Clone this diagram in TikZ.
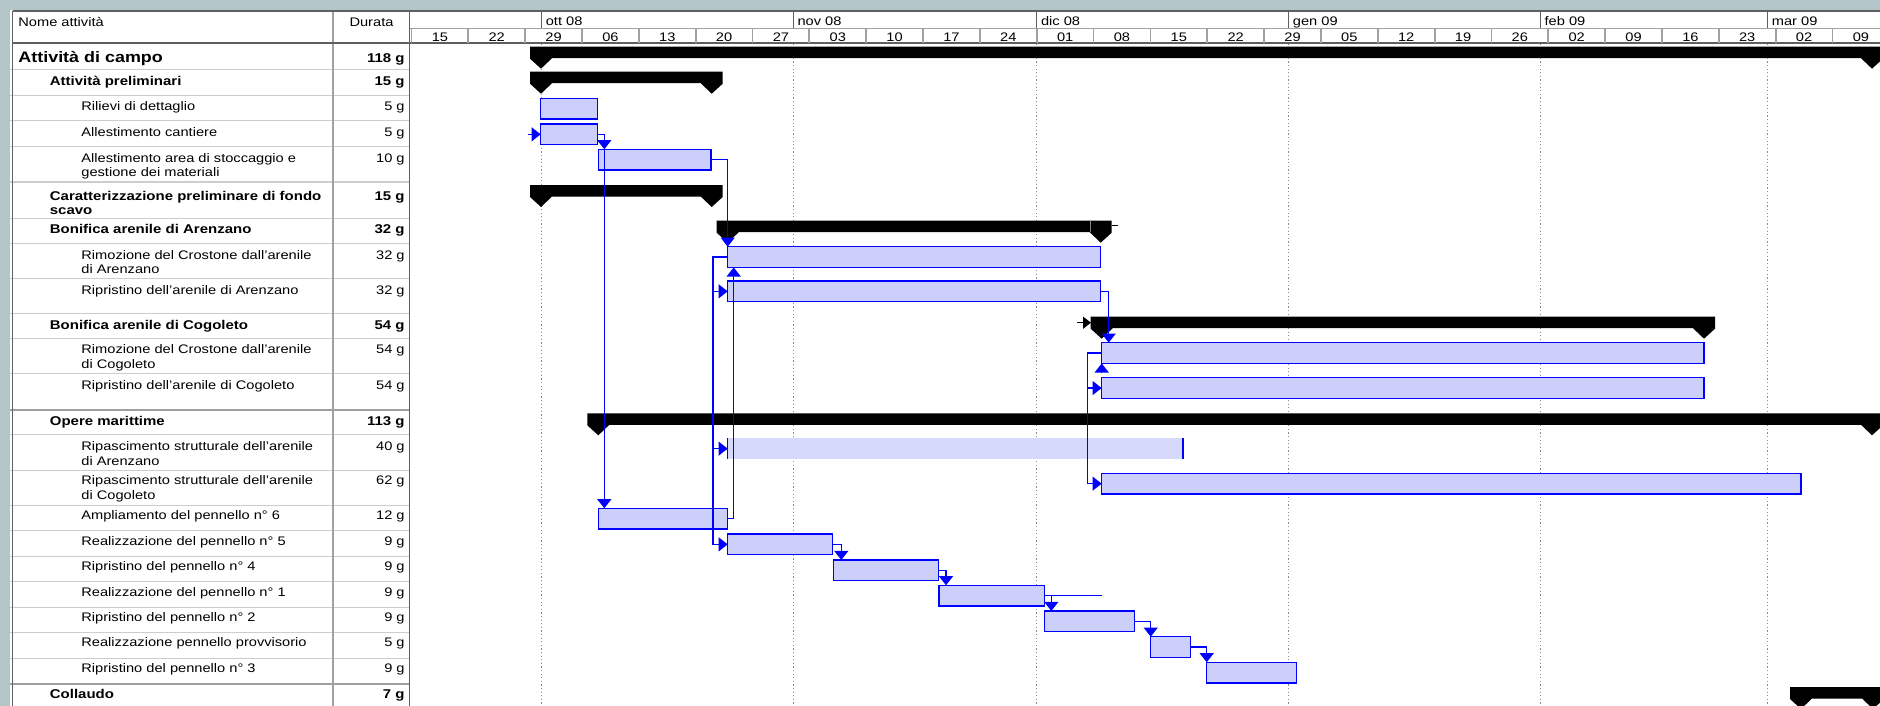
\documentclass[tikz,border=0pt]{standalone}
\usepackage{fontspec}
\setmainfont{Liberation Sans}[FakeStretch=1.18]
\usetikzlibrary{arrows.meta}

\definecolor{bgteal}{RGB}{180,197,199}
\definecolor{pblue}{RGB}{0,0,255}
\definecolor{barfill}{RGB}{204,207,250}
\definecolor{barlight}{RGB}{214,217,251}
\definecolor{gridc}{RGB}{205,205,205}
\definecolor{sepc}{RGB}{160,160,160}
\definecolor{darkc}{RGB}{95,95,95}
\definecolor{dotc}{RGB}{140,140,140}

\newcommand{\fn}{\fontsize{6.2pt}{7.4pt}\selectfont}
\newcommand{\fb}{\fontsize{6.35pt}{7.6pt}\selectfont\bfseries}
\newcommand{\fbig}{\fontsize{7.6pt}{9pt}\selectfont\bfseries}

% \tbar[opts]{name}{x1}{x2}{top}
\newcommand{\tbar}[5][]{\node[taskbar,#1,minimum width={(#4-#3)*0.5pt}] (#2) at (#3,#5) {};}
% \sumbar{name}{xstart}{xend}{top}
\newcommand{\sumbar}[4]{%
  \fill[black] ({#2-11},#4) -- ({#3+11},#4) -- ({#3+11},{#4+12}) -- (#3,{#4+22}) -- ({#3-11},{#4+11.5}) -- ({#2+11},{#4+11.5}) -- (#2,{#4+22}) -- ({#2-11},{#4+12}) -- cycle;
  \coordinate (#1) at (#2,#4);}

\begin{document}
\begin{tikzpicture}[x=0.5pt,y=-0.5pt,
  taskbar/.style={draw=pblue,fill=barfill,line width=0.75pt,anchor=north west,minimum height=10.35pt,inner sep=0pt,outer sep=0pt},
  link/.style={draw=pblue,line width=0.75pt,-{Triangle[width=7pt,length=4.6pt]}},
  plainlink/.style={draw=pblue,line width=0.75pt},
  lbl/.style={anchor=base west,inner sep=0pt,font=\fn},
  blbl/.style={anchor=base west,inner sep=0pt,font=\fb},
  dur/.style={anchor=base east,inner sep=0pt,font=\fn},
  bdur/.style={anchor=base east,inner sep=0pt,font=\fb},
  hdr/.style={inner sep=0pt,font=\fn}]

\useasboundingbox (0,0) rectangle (1880,706);
\fill[bgteal] (0,0) rectangle (1880,706);
\fill[white] (9.5,10.5) rectangle (1880,706);

% month dotted lines
\foreach \x in {541.4,793.1,1036.7,1288.5,1540.2,1767.5}
  \draw[dotc,line width=0.5pt,dash pattern=on 0.6pt off 1.2pt] (\x,43.5) -- (\x,706);

% table row lines
\foreach \y in {69.3,95.5,121,147,182,218.5,243.3,278.3,313.5,338,373,434.5,470,505.3,530.3,556,581.7,607,632.7,658.3}
  \draw[gridc,line width=0.5pt] (9.5,\y) -- (409,\y);
\foreach \y in {410,684}
  \draw[sepc,line width=1.2pt] (9.5,\y) -- (409,\y);

% table verticals
\draw[darkc,line width=0.75pt] (12.5,11) -- (12.5,706);
\draw[sepc,line width=1pt] (333,11) -- (333,706);
\draw[darkc,line width=0.75pt] (409.5,11) -- (409.5,706);

% header lines
\draw[darkc,line width=0.75pt] (12.5,11) -- (1880,11);
\draw[sepc,line width=0.6pt] (409.5,28.3) -- (1880,28.3);
\draw[darkc,line width=0.9pt] (12.5,43.3) -- (1880,43.3);

% header texts
\node[hdr,anchor=base west] (hname) at (18,26.7) {Nome attività};
\node[hdr,anchor=base] (hdur) at (371.5,26.7) {Durata};

% months
\foreach \x/\lab [count=\i] in {541.4/ott 08,793.1/nov 08,1036.7/dic 08,1288.5/gen 09,1540.2/feb 09,1767.5/mar 09}{
  \draw[darkc,line width=0.6pt] (\x,11) -- (\x,28.3);
  \node[hdr,anchor=base west] (m\i) at ({\x+4},25.8) {\lab};
}
% weeks
\foreach \k/\lab in {0/15,1/22,2/29,3/06,4/13,5/20,6/27,7/03,8/10,9/17,10/24,11/01,12/08,13/15,14/22,15/29,16/05,17/12,18/19,19/26,20/02,21/09,22/16,23/23,24/02,25/09}{
  \draw[sepc,line width=0.9pt] ({411.5+56.84*\k},28.3) -- ({411.5+56.84*\k},43.3);
  \node[hdr,anchor=base] (w\k) at ({411.5+56.84*\k+28.4},41.3) {\lab};
}

% names
\node[anchor=base west,inner sep=0pt,font=\fbig] (n1) at (18,62.5) {Attività di campo};
\node[blbl] (n2) at (49.5,86) {Attività preliminari};
\node[lbl] (n3) at (81,111) {Rilievi di dettaglio};
\node[lbl] (n4) at (81,136.5) {Allestimento cantiere};
\node[lbl] (n5a) at (81,162.5) {Allestimento area di stoccaggio e};
\node[lbl] (n5b) at (81,176.5) {gestione dei materiali};
\node[blbl] (n6a) at (49.5,200) {Caratterizzazione preliminare di fondo};
\node[blbl] (n6b) at (49.5,214) {scavo};
\node[blbl] (n7) at (49.5,233.5) {Bonifica arenile di Arenzano};
\node[lbl] (n8a) at (81,259) {Rimozione del Crostone dall'arenile};
\node[lbl] (n8b) at (81,273.5) {di Arenzano};
\node[lbl] (n9) at (81,294) {Ripristino dell'arenile di Arenzano};
\node[blbl] (n10) at (49.5,329) {Bonifica arenile di Cogoleto};
\node[lbl] (n11a) at (81,353.5) {Rimozione del Crostone dall'arenile};
\node[lbl] (n11b) at (81,368) {di Cogoleto};
\node[lbl] (n12) at (81,389) {Ripristino dell'arenile di Cogoleto};
\node[blbl] (n13) at (49.5,425) {Opere marittime};
\node[lbl] (n14a) at (81,450) {Ripascimento strutturale dell'arenile};
\node[lbl] (n14b) at (81,465) {di Arenzano};
\node[lbl] (n15a) at (81,484.5) {Ripascimento strutturale dell'arenile};
\node[lbl] (n15b) at (81,499.3) {di Cogoleto};
\node[lbl] (n16) at (81,519.5) {Ampliamento del pennello n° 6};
\node[lbl] (n17) at (81,545) {Realizzazione del pennello n° 5};
\node[lbl] (n18) at (81,570.7) {Ripristino del pennello n° 4};
\node[lbl] (n19) at (81,596) {Realizzazione del pennello n° 1};
\node[lbl] (n20) at (81,621.5) {Ripristino del pennello n° 2};
\node[lbl] (n21) at (81,646.5) {Realizzazione pennello provvisorio};
\node[lbl] (n22) at (81,672.5) {Ripristino del pennello n° 3};
\node[blbl] (n23) at (49.5,698) {Collaudo};

% durations
\node[bdur] (d1) at (405,62.5) {118 g};
\node[bdur] (d2) at (405,86) {15 g};
\node[dur] (d3) at (405,111) {5 g};
\node[dur] (d4) at (405,136.5) {5 g};
\node[dur] (d5) at (405,162.5) {10 g};
\node[bdur] (d6) at (405,200) {15 g};
\node[bdur] (d7) at (405,233.5) {32 g};
\node[dur] (d8) at (405,259) {32 g};
\node[dur] (d9) at (405,294) {32 g};
\node[bdur] (d10) at (405,329) {54 g};
\node[dur] (d11) at (405,353.5) {54 g};
\node[dur] (d12) at (405,389) {54 g};
\node[bdur] (d13) at (405,425) {113 g};
\node[dur] (d14) at (405,450) {40 g};
\node[dur] (d15) at (405,484.5) {62 g};
\node[dur] (d16) at (405,519.5) {12 g};
\node[dur] (d17) at (405,545) {9 g};
\node[dur] (d18) at (405,570.7) {9 g};
\node[dur] (d19) at (405,596) {9 g};
\node[dur] (d20) at (405,621.5) {9 g};
\node[dur] (d21) at (405,646.5) {5 g};
\node[dur] (d22) at (405,672.5) {9 g};
\node[bdur] (d23) at (405,698) {7 g};

% summary bars
\sumbar{s1}{541}{1872}{46.7}
\sumbar{s2}{541}{711.7}{71.7}
\sumbar{s6}{541}{711.7}{185}
\sumbar{s7}{727.7}{1100.7}{220.7}
\sumbar{s10}{1101.7}{1704}{316.7}
\sumbar{s13}{598.3}{1872}{413.3}
\sumbar{s23}{1801}{1873}{687}
\draw[gray,line width=0.5pt] (1090,220.7) -- (1090,232.2);
\coordinate (k0) at (1111.5,225.5);
\coordinate (k1) at (1118,225.5);
\draw[black,line width=0.75pt] (k0) -- (k1);
\coordinate (k2) at (1077,322.7);
\coordinate (k3) at (1091,322.7);
\draw[black,line width=0.75pt,-{Triangle[width=6pt,length=4pt]}] (k2) -- (k3);

% task bars
\tbar{b3}{540.7}{597.3}{98.3}
\tbar{b4}{540.7}{597.3}{124}
\tbar{b5}{598.3}{711}{149.3}
\tbar{b8}{727.7}{1100.7}{246.7}
\tbar{b9}{727.7}{1100.7}{281}
\tbar{b11}{1101.7}{1704}{342.7}
\tbar{b12}{1101.7}{1704}{377.7}
\tbar[draw=none,fill=barlight]{b14}{727.7}{1183}{438.3}
\draw[pblue,line width=0.75pt] (b14.north west) -- (b14.south west) (b14.north east) -- (b14.south east);
\tbar{b15}{1101.7}{1801}{473.3}
\tbar{b16}{598.3}{727.7}{508.3}
\tbar{b17}{727.7}{832.7}{534}
\tbar{b18}{833.3}{938.3}{560}
\tbar{b19}{939}{1044.3}{585.3}
\tbar{b20}{1044.3}{1134.3}{611}
\tbar{b21}{1150.7}{1190.7}{636.7}
\tbar{b22}{1206.7}{1296.7}{662.3}

% links
\coordinate (c1) at (527.7,134.35);
\draw[link] (c1) -- (b4.west);
\draw[link] (b4.east) -| ([xshift=3pt]b5.north west);
\draw[link] (b4.east) -| ([xshift=3pt]b16.north west);
\draw[link] (b5.east) -| (b8.north west);
\draw[link] (b8.west) -- ++(-14.5,0) |- (b9.west);
\draw[link] (b8.west) -- ++(-14.5,0) |- (b14.west);
\draw[link] (b8.west) -- ++(-14.5,0) |- (b17.west);
\draw[link] (b16.east) -| ([xshift=3pt]b8.south west);
\draw[link] (b17.east) -| ([xshift=4pt]b18.north west);
\draw[link] (b18.east) -| ([xshift=3.5pt]b19.north west);
\draw[link] (b19.east) -| ([xshift=3.5pt]b20.north west);
\draw[plainlink] (b19.east) -- (b19.east -| b11.south west);
\draw[link] ([yshift=-4.2pt]b11.south west) -- (b11.south west);
\draw[link] (b20.east) -| (b21.north west);
\draw[link] (b21.east) -| (b22.north west);
\draw[link] (b9.east) -| ([xshift=3.5pt]b11.north west);
\draw[link] (b11.west) -- ++(-14,0) |- (b12.west);
\draw[link] (b11.west) -- ++(-14,0) |- (b15.west);
\end{tikzpicture}
\end{document}
